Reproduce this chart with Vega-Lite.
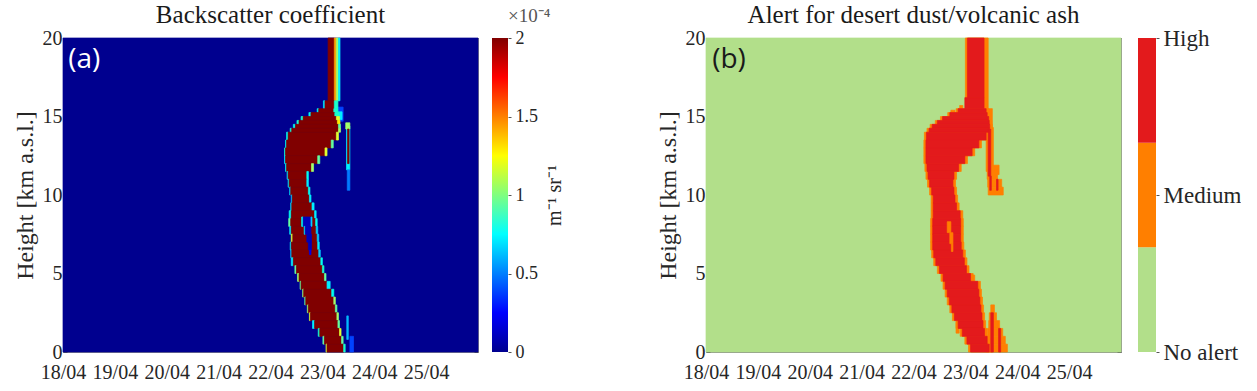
{
  "$schema": "https://vega.github.io/schema/vega-lite/v6.json",
  "padding": {"left": 13, "top": 3, "right": 0, "bottom": 0},
  "background": "white",
  "bounds": "flush",
  "spacing": 0,
  "resolve": {"scale": {"color": "independent", "stroke": "independent"}},
  "config": {
    "view": {"stroke": null},
    "font": "Liberation Serif",
    "title": {"font": "Liberation Serif", "fontWeight": "normal", "color": "#1a1a1a"},
    "axis": {"labelFont": "Liberation Serif", "titleFont": "Liberation Serif", "titleFontWeight": "normal", "labelColor": "#262626", "titleColor": "#262626", "grid": false, "domainColor": "#8c8c8c", "tickColor": "#555555"}
  },
  "datasets": {
    "a": [
      {"d0":18,"d1":26,"h0":0,"h1":20,"v":0},
      {"d0":23.24,"d1":23.40,"h0":14.7,"h1":15.6,"v":0.3},
      {"d0":23.30,"d1":23.38,"h0":14.8,"h1":15.3,"v":0.7},
      {"d0":23.465,"d1":23.53,"h0":11.6,"h1":14.4,"v":0.7},
      {"d0":23.48,"d1":23.53,"h0":10.3,"h1":11.6,"v":0.4},
      {"d0":23.45,"d1":23.53,"h0":14.2,"h1":14.6,"v":1.1},
      {"d0":23.47,"d1":23.50,"h0":0.8,"h1":2.3,"v":0.55},
      {"d0":23.53,"d1":23.60,"h0":0,"h1":1.0,"v":0.3},
      {"d0":23.485,"d1":23.515,"h0":12.0,"h1":14.2,"v":2},
      {"d0":23.11,"d1":23.23,"h0":16,"h1":20,"v":2},
      {"d0":23.23,"d1":23.27,"h0":16,"h1":20,"v":1.5},
      {"d0":23.27,"d1":23.31,"h0":16,"h1":20,"v":1.1},
      {"d0":23.31,"d1":23.34,"h0":16,"h1":20,"v":0.7},
      {"d0":23.02,"d1":23.05,"h0":15.5,"h1":16,"v":0.7},
      {"d0":23.05,"d1":23.23,"h0":15.5,"h1":16,"v":2},
      {"d0":23.23,"d1":23.30,"h0":15.5,"h1":16,"v":0.9},
      {"d0":22.90,"d1":22.93,"h0":15.25,"h1":15.5,"v":0.8},
      {"d0":22.93,"d1":23.22,"h0":15.25,"h1":15.5,"v":2},
      {"d0":23.22,"d1":23.30,"h0":15.25,"h1":15.5,"v":0.9},
      {"d0":22.74,"d1":22.78,"h0":15.0,"h1":15.25,"v":0.8},
      {"d0":22.78,"d1":23.24,"h0":15.0,"h1":15.25,"v":2},
      {"d0":23.24,"d1":23.32,"h0":15.0,"h1":15.25,"v":0.9},
      {"d0":22.59,"d1":22.63,"h0":14.75,"h1":15.0,"v":0.9},
      {"d0":22.63,"d1":23.27,"h0":14.75,"h1":15.0,"v":2},
      {"d0":23.27,"d1":23.33,"h0":14.75,"h1":15.0,"v":1.2},
      {"d0":22.51,"d1":22.55,"h0":14.5,"h1":14.75,"v":0.9},
      {"d0":22.55,"d1":23.29,"h0":14.5,"h1":14.75,"v":2},
      {"d0":23.29,"d1":23.34,"h0":14.5,"h1":14.75,"v":1.3},
      {"d0":22.44,"d1":22.48,"h0":14.25,"h1":14.5,"v":0.8},
      {"d0":22.48,"d1":23.31,"h0":14.25,"h1":14.5,"v":2},
      {"d0":23.31,"d1":23.35,"h0":14.25,"h1":14.5,"v":1.0},
      {"d0":22.38,"d1":22.41,"h0":14.0,"h1":14.25,"v":0.9},
      {"d0":22.41,"d1":23.31,"h0":14.0,"h1":14.25,"v":2},
      {"d0":23.31,"d1":23.35,"h0":14.0,"h1":14.25,"v":1.1},
      {"d0":22.31,"d1":22.34,"h0":13.5,"h1":14.0,"v":0.8},
      {"d0":22.34,"d1":23.27,"h0":13.5,"h1":14.0,"v":2},
      {"d0":23.27,"d1":23.31,"h0":13.5,"h1":14.0,"v":1.2},
      {"d0":22.29,"d1":22.31,"h0":13.0,"h1":13.5,"v":0.8},
      {"d0":22.31,"d1":23.17,"h0":13.0,"h1":13.5,"v":2},
      {"d0":23.17,"d1":23.21,"h0":13.0,"h1":13.5,"v":1.0},
      {"d0":22.27,"d1":22.29,"h0":12.5,"h1":13.0,"v":0.9},
      {"d0":22.29,"d1":23.05,"h0":12.5,"h1":13.0,"v":2},
      {"d0":23.05,"d1":23.09,"h0":12.5,"h1":13.0,"v":1.2},
      {"d0":22.27,"d1":22.29,"h0":12.0,"h1":12.5,"v":0.7},
      {"d0":22.29,"d1":22.91,"h0":12.0,"h1":12.5,"v":2},
      {"d0":22.91,"d1":22.95,"h0":12.0,"h1":12.5,"v":1.0},
      {"d0":22.29,"d1":22.31,"h0":11.5,"h1":12.0,"v":0.8},
      {"d0":22.31,"d1":22.79,"h0":11.5,"h1":12.0,"v":2},
      {"d0":22.79,"d1":22.83,"h0":11.5,"h1":12.0,"v":1.1},
      {"d0":22.32,"d1":22.34,"h0":11.0,"h1":11.5,"v":0.7},
      {"d0":22.34,"d1":22.70,"h0":11.0,"h1":11.5,"v":2},
      {"d0":22.70,"d1":22.73,"h0":11.0,"h1":11.5,"v":0.8},
      {"d0":22.34,"d1":22.36,"h0":10.5,"h1":11.0,"v":0.7},
      {"d0":22.36,"d1":22.70,"h0":10.5,"h1":11.0,"v":2},
      {"d0":22.70,"d1":22.73,"h0":10.5,"h1":11.0,"v":0.7},
      {"d0":22.37,"d1":22.39,"h0":10.0,"h1":10.5,"v":0.7},
      {"d0":22.39,"d1":22.73,"h0":10.0,"h1":10.5,"v":2},
      {"d0":22.73,"d1":22.76,"h0":10.0,"h1":10.5,"v":0.8},
      {"d0":22.40,"d1":22.42,"h0":9.5,"h1":10.0,"v":0.6},
      {"d0":22.42,"d1":22.75,"h0":9.5,"h1":10.0,"v":2},
      {"d0":22.75,"d1":22.78,"h0":9.5,"h1":10.0,"v":0.7},
      {"d0":22.39,"d1":22.41,"h0":9.0,"h1":9.5,"v":0.7},
      {"d0":22.41,"d1":22.80,"h0":9.0,"h1":9.5,"v":2},
      {"d0":22.80,"d1":22.84,"h0":9.0,"h1":9.5,"v":0.7},
      {"d0":22.36,"d1":22.40,"h0":8.5,"h1":9.0,"v":0.8},
      {"d0":22.40,"d1":22.85,"h0":8.5,"h1":9.0,"v":2},
      {"d0":22.85,"d1":22.88,"h0":8.5,"h1":9.0,"v":0.7},
      {"d0":22.35,"d1":22.39,"h0":8.0,"h1":8.5,"v":1.0},
      {"d0":22.39,"d1":22.87,"h0":8.0,"h1":8.5,"v":2},
      {"d0":22.87,"d1":22.90,"h0":8.0,"h1":8.5,"v":0.8},
      {"d0":22.37,"d1":22.40,"h0":7.5,"h1":8.0,"v":0.7},
      {"d0":22.40,"d1":22.88,"h0":7.5,"h1":8.0,"v":2},
      {"d0":22.88,"d1":22.91,"h0":7.5,"h1":8.0,"v":0.6},
      {"d0":22.40,"d1":22.43,"h0":7.0,"h1":7.5,"v":1.2},
      {"d0":22.43,"d1":22.90,"h0":7.0,"h1":7.5,"v":2},
      {"d0":22.90,"d1":22.93,"h0":7.0,"h1":7.5,"v":0.6},
      {"d0":22.38,"d1":22.40,"h0":6.5,"h1":7.0,"v":0.7},
      {"d0":22.40,"d1":22.91,"h0":6.5,"h1":7.0,"v":2},
      {"d0":22.91,"d1":22.94,"h0":6.5,"h1":7.0,"v":0.7},
      {"d0":22.39,"d1":22.41,"h0":6.0,"h1":6.5,"v":0.6},
      {"d0":22.41,"d1":22.93,"h0":6.0,"h1":6.5,"v":2},
      {"d0":22.93,"d1":22.96,"h0":6.0,"h1":6.5,"v":0.6},
      {"d0":22.40,"d1":22.44,"h0":5.5,"h1":6.0,"v":0.7},
      {"d0":22.44,"d1":22.97,"h0":5.5,"h1":6.0,"v":2},
      {"d0":22.97,"d1":23.00,"h0":5.5,"h1":6.0,"v":0.8},
      {"d0":22.47,"d1":22.50,"h0":5.0,"h1":5.5,"v":1.0},
      {"d0":22.50,"d1":23.00,"h0":5.0,"h1":5.5,"v":2},
      {"d0":23.00,"d1":23.03,"h0":5.0,"h1":5.5,"v":0.9},
      {"d0":22.52,"d1":22.55,"h0":4.5,"h1":5.0,"v":1.1},
      {"d0":22.55,"d1":23.04,"h0":4.5,"h1":5.0,"v":2},
      {"d0":23.04,"d1":23.07,"h0":4.5,"h1":5.0,"v":1.0},
      {"d0":22.57,"d1":22.59,"h0":4.0,"h1":4.5,"v":1.0},
      {"d0":22.59,"d1":23.09,"h0":4.0,"h1":4.5,"v":2},
      {"d0":23.09,"d1":23.15,"h0":4.0,"h1":4.5,"v":0.7},
      {"d0":22.62,"d1":22.64,"h0":3.5,"h1":4.0,"v":1.1},
      {"d0":22.64,"d1":23.18,"h0":3.5,"h1":4.0,"v":2},
      {"d0":23.18,"d1":23.22,"h0":3.5,"h1":4.0,"v":0.8},
      {"d0":22.66,"d1":22.68,"h0":3.0,"h1":3.5,"v":1.0},
      {"d0":22.68,"d1":23.22,"h0":3.0,"h1":3.5,"v":2},
      {"d0":23.22,"d1":23.25,"h0":3.0,"h1":3.5,"v":1.1},
      {"d0":22.71,"d1":22.73,"h0":2.5,"h1":3.0,"v":1.1},
      {"d0":22.73,"d1":23.25,"h0":2.5,"h1":3.0,"v":2},
      {"d0":23.25,"d1":23.28,"h0":2.5,"h1":3.0,"v":1.0},
      {"d0":22.75,"d1":22.77,"h0":2.0,"h1":2.5,"v":1.2},
      {"d0":22.77,"d1":23.28,"h0":2.0,"h1":2.5,"v":2},
      {"d0":23.28,"d1":23.31,"h0":2.0,"h1":2.5,"v":1.1},
      {"d0":22.81,"d1":22.85,"h0":1.5,"h1":2.0,"v":0.7},
      {"d0":22.85,"d1":23.30,"h0":1.5,"h1":2.0,"v":2},
      {"d0":23.30,"d1":23.33,"h0":1.5,"h1":2.0,"v":1.0},
      {"d0":22.92,"d1":22.95,"h0":1.0,"h1":1.5,"v":0.9},
      {"d0":22.95,"d1":23.33,"h0":1.0,"h1":1.5,"v":2},
      {"d0":23.33,"d1":23.36,"h0":1.0,"h1":1.5,"v":1.2},
      {"d0":23.01,"d1":23.04,"h0":0.5,"h1":1.0,"v":1.0},
      {"d0":23.04,"d1":23.37,"h0":0.5,"h1":1.0,"v":2},
      {"d0":23.37,"d1":23.40,"h0":0.5,"h1":1.0,"v":1.0},
      {"d0":23.07,"d1":23.09,"h0":0.0,"h1":0.5,"v":1.2},
      {"d0":23.09,"d1":23.41,"h0":0.0,"h1":0.5,"v":2},
      {"d0":23.41,"d1":23.44,"h0":0.0,"h1":0.5,"v":0.9},
      {"d0":22.60,"d1":22.63,"h0":8.0,"h1":8.6,"v":0.8},
      {"d0":22.63,"d1":22.78,"h0":8.0,"h1":8.6,"v":0.1},
      {"d0":22.78,"d1":22.80,"h0":8.0,"h1":8.6,"v":0.6},
      {"d0":22.65,"d1":22.67,"h0":7.5,"h1":8.0,"v":0.7},
      {"d0":22.67,"d1":22.78,"h0":7.5,"h1":8.0,"v":0.1},
      {"d0":22.70,"d1":22.79,"h0":7.0,"h1":7.5,"v":0.1},
      {"d0":22.73,"d1":22.79,"h0":6.5,"h1":7.0,"v":0.1},
      {"d0":22.75,"d1":22.78,"h0":6.2,"h1":6.5,"v":0.2}
    ],
    "b": [
      {"d0":18,"d1":26,"h0":0,"h1":20,"lvl":0},
      {"d0":23.00,"d1":23.44,"h0":15.5,"h1":20,"lvl":1},
      {"d0":22.72,"d1":22.80,"h0":14.4,"h1":15.4,"lvl":1},
      {"d0":22.89,"d1":22.95,"h0":14.6,"h1":15.7,"lvl":1},
      {"d0":23.36,"d1":23.52,"h0":14.3,"h1":15.5,"lvl":1},
      {"d0":23.40,"d1":23.54,"h0":11.5,"h1":14.3,"lvl":1},
      {"d0":23.52,"d1":23.65,"h0":11.3,"h1":11.9,"lvl":1},
      {"d0":23.42,"d1":23.62,"h0":11.0,"h1":11.6,"lvl":1},
      {"d0":23.43,"d1":23.70,"h0":10.5,"h1":11.0,"lvl":1},
      {"d0":23.44,"d1":23.73,"h0":10.0,"h1":10.5,"lvl":1},
      {"d0":23.49,"d1":23.56,"h0":2.5,"h1":3.0,"lvl":1},
      {"d0":23.46,"d1":23.60,"h0":2.0,"h1":2.5,"lvl":1},
      {"d0":23.45,"d1":23.66,"h0":1.5,"h1":2.0,"lvl":1},
      {"d0":23.43,"d1":23.72,"h0":1.0,"h1":1.5,"lvl":1},
      {"d0":23.42,"d1":23.77,"h0":0.5,"h1":1.0,"lvl":1},
      {"d0":23.40,"d1":23.81,"h0":0.0,"h1":0.5,"lvl":1},
      {"d0":23.10,"d1":23.18,"h0":4.4,"h1":4.9,"lvl":1},
      {"d0":22.82,"d1":22.88,"h0":1.2,"h1":1.9,"lvl":1},
      {"d0":22.82,"d1":23.45,"h0":15.25,"h1":15.5,"lvl":1},
      {"d0":22.66,"d1":23.47,"h0":15.0,"h1":15.25,"lvl":1},
      {"d0":22.52,"d1":23.50,"h0":14.75,"h1":15.0,"lvl":1},
      {"d0":22.42,"d1":23.51,"h0":14.5,"h1":14.75,"lvl":1},
      {"d0":22.32,"d1":23.52,"h0":14.25,"h1":14.5,"lvl":1},
      {"d0":22.26,"d1":23.51,"h0":14.0,"h1":14.25,"lvl":1},
      {"d0":22.21,"d1":23.45,"h0":13.5,"h1":14.0,"lvl":1},
      {"d0":22.20,"d1":23.31,"h0":13.0,"h1":13.5,"lvl":1},
      {"d0":22.20,"d1":23.18,"h0":12.5,"h1":13.0,"lvl":1},
      {"d0":22.20,"d1":23.04,"h0":12.0,"h1":12.5,"lvl":1},
      {"d0":22.22,"d1":22.92,"h0":11.5,"h1":12.0,"lvl":1},
      {"d0":22.24,"d1":22.83,"h0":11.0,"h1":11.5,"lvl":1},
      {"d0":22.27,"d1":22.81,"h0":10.5,"h1":11.0,"lvl":1},
      {"d0":22.31,"d1":22.83,"h0":10.0,"h1":10.5,"lvl":1},
      {"d0":22.34,"d1":22.85,"h0":9.5,"h1":10.0,"lvl":1},
      {"d0":22.34,"d1":22.88,"h0":9.0,"h1":9.5,"lvl":1},
      {"d0":22.34,"d1":22.95,"h0":8.5,"h1":9.0,"lvl":1},
      {"d0":22.33,"d1":22.96,"h0":8.0,"h1":8.5,"lvl":1},
      {"d0":22.33,"d1":22.96,"h0":7.5,"h1":8.0,"lvl":1},
      {"d0":22.33,"d1":22.96,"h0":7.0,"h1":7.5,"lvl":1},
      {"d0":22.33,"d1":22.97,"h0":6.5,"h1":7.0,"lvl":1},
      {"d0":22.35,"d1":23.00,"h0":6.0,"h1":6.5,"lvl":1},
      {"d0":22.39,"d1":23.03,"h0":5.5,"h1":6.0,"lvl":1},
      {"d0":22.46,"d1":23.07,"h0":5.0,"h1":5.5,"lvl":1},
      {"d0":22.53,"d1":23.15,"h0":4.5,"h1":5.0,"lvl":1},
      {"d0":22.57,"d1":23.29,"h0":4.0,"h1":4.5,"lvl":1},
      {"d0":22.61,"d1":23.31,"h0":3.5,"h1":4.0,"lvl":1},
      {"d0":22.65,"d1":23.33,"h0":3.0,"h1":3.5,"lvl":1},
      {"d0":22.70,"d1":23.35,"h0":2.5,"h1":3.0,"lvl":1},
      {"d0":22.75,"d1":23.37,"h0":2.0,"h1":2.5,"lvl":1},
      {"d0":22.82,"d1":23.39,"h0":1.5,"h1":2.0,"lvl":1},
      {"d0":22.90,"d1":23.42,"h0":1.0,"h1":1.5,"lvl":1},
      {"d0":22.99,"d1":23.47,"h0":0.5,"h1":1.0,"lvl":1},
      {"d0":23.06,"d1":23.51,"h0":0.0,"h1":0.5,"lvl":1},
      {"d0":23.04,"d1":23.36,"h0":16.2,"h1":20,"lvl":2},
      {"d0":22.99,"d1":23.36,"h0":15.5,"h1":16.2,"lvl":2},
      {"d0":22.86,"d1":23.40,"h0":15.25,"h1":15.5,"lvl":2},
      {"d0":22.70,"d1":23.42,"h0":15.0,"h1":15.25,"lvl":2},
      {"d0":22.56,"d1":23.45,"h0":14.75,"h1":15.0,"lvl":2},
      {"d0":22.46,"d1":23.46,"h0":14.5,"h1":14.75,"lvl":2},
      {"d0":22.36,"d1":23.47,"h0":14.25,"h1":14.5,"lvl":2},
      {"d0":22.30,"d1":23.46,"h0":14.0,"h1":14.25,"lvl":2},
      {"d0":22.25,"d1":23.40,"h0":13.5,"h1":14.0,"lvl":2},
      {"d0":22.24,"d1":23.26,"h0":13.0,"h1":13.5,"lvl":2},
      {"d0":22.24,"d1":23.13,"h0":12.5,"h1":13.0,"lvl":2},
      {"d0":22.24,"d1":22.99,"h0":12.0,"h1":12.5,"lvl":2},
      {"d0":22.26,"d1":22.87,"h0":11.5,"h1":12.0,"lvl":2},
      {"d0":22.28,"d1":22.78,"h0":11.0,"h1":11.5,"lvl":2},
      {"d0":22.31,"d1":22.76,"h0":10.5,"h1":11.0,"lvl":2},
      {"d0":22.35,"d1":22.78,"h0":10.0,"h1":10.5,"lvl":2},
      {"d0":22.38,"d1":22.80,"h0":9.5,"h1":10.0,"lvl":2},
      {"d0":22.38,"d1":22.83,"h0":9.0,"h1":9.5,"lvl":2},
      {"d0":22.38,"d1":22.90,"h0":8.5,"h1":9.0,"lvl":2},
      {"d0":22.37,"d1":22.91,"h0":8.0,"h1":8.5,"lvl":2},
      {"d0":22.37,"d1":22.91,"h0":7.5,"h1":8.0,"lvl":2},
      {"d0":22.37,"d1":22.91,"h0":7.0,"h1":7.5,"lvl":2},
      {"d0":22.37,"d1":22.92,"h0":6.5,"h1":7.0,"lvl":2},
      {"d0":22.39,"d1":22.95,"h0":6.0,"h1":6.5,"lvl":2},
      {"d0":22.43,"d1":22.98,"h0":5.5,"h1":6.0,"lvl":2},
      {"d0":22.50,"d1":23.02,"h0":5.0,"h1":5.5,"lvl":2},
      {"d0":22.57,"d1":23.10,"h0":4.5,"h1":5.0,"lvl":2},
      {"d0":22.61,"d1":23.24,"h0":4.0,"h1":4.5,"lvl":2},
      {"d0":22.65,"d1":23.26,"h0":3.5,"h1":4.0,"lvl":2},
      {"d0":22.69,"d1":23.28,"h0":3.0,"h1":3.5,"lvl":2},
      {"d0":22.74,"d1":23.30,"h0":2.5,"h1":3.0,"lvl":2},
      {"d0":22.79,"d1":23.32,"h0":2.0,"h1":2.5,"lvl":2},
      {"d0":22.86,"d1":23.34,"h0":1.5,"h1":2.0,"lvl":2},
      {"d0":22.94,"d1":23.37,"h0":1.0,"h1":1.5,"lvl":2},
      {"d0":23.03,"d1":23.42,"h0":0.5,"h1":1.0,"lvl":2},
      {"d0":23.10,"d1":23.46,"h0":0.0,"h1":0.5,"lvl":2},
      {"d0":22.65,"d1":22.72,"h0":7.6,"h1":8.3,"lvl":1},
      {"d0":22.70,"d1":22.76,"h0":6.9,"h1":7.6,"lvl":1},
      {"d0":22.73,"d1":22.76,"h0":6.4,"h1":6.9,"lvl":1},
      {"d0":23.44,"d1":23.49,"h0":11.2,"h1":14.2,"lvl":2},
      {"d0":23.47,"d1":23.50,"h0":10.3,"h1":11.2,"lvl":2},
      {"d0":23.60,"d1":23.63,"h0":10.3,"h1":11.0,"lvl":2},
      {"d0":23.49,"d1":23.54,"h0":0.0,"h1":2.5,"lvl":2},
      {"d0":23.64,"d1":23.68,"h0":0.0,"h1":1.5,"lvl":2}
    ],
    "cbb": [
      {"lo":0,"hi":1,"lvl":0},
      {"lo":1,"hi":2,"lvl":1},
      {"lo":2,"hi":3,"lvl":2}
    ]
  },
  "hconcat": [
    {
      "width": 415, "height": 314,
      "title": {"text": "Backscatter coefficient", "fontSize": 25, "offset": 0, "font": "Liberation Serif"},
      "layer": [
        {
          "data": {"name": "a"},
          "mark": {"type": "rect", "strokeWidth": 0.7},
          "encoding": {
            "x": {"field": "d0", "type": "quantitative", "scale": {"domain": [18, 26], "nice": false, "zero": false},
                  "axis": {"orient": "bottom", "title": null, "values": [18,18.2,18.4,18.6,18.8,19,19.2,19.4,19.6,19.8,20,20.2,20.4,20.6,20.8,21,21.2,21.4,21.6,21.8,22,22.2,22.4,22.6,22.8,23,23.2,23.4,23.6,23.8,24,24.2,24.4,24.6,24.8,25,25.2,25.4,25.6,25.8,26],
                           "labelExpr": "datum.value % 1 === 0 && datum.value < 26 ? datum.value + '/04' : ''", "tickSize": -4, "labelPadding": 14, "labelFontSize": 20, "labelFont": "Liberation Serif", "labelOverlap": false, "labelFlush": false}},
            "x2": {"field": "d1"},
            "y": {"field": "h0", "type": "quantitative", "scale": {"domain": [0, 20], "nice": false, "zero": false},
                  "axis": {"orient": "left", "title": "Height  [km a.s.l.]", "titleFont": "Liberation Serif", "titleFontSize": 24, "titlePadding": 5, "values": [0,1,2,3,4,5,6,7,8,9,10,11,12,13,14,15,16,17,18,19,20],
                           "labelExpr": "datum.value % 5 === 0 ? datum.label : ''", "tickSize": -4, "labelPadding": 5, "labelFontSize": 20, "labelFont": "Liberation Serif", "labelOverlap": false, "labelFlush": false}},
            "y2": {"field": "h1"},
            "color": {"field": "v", "type": "quantitative", "scale": {"domain": [0, 0.25, 0.75, 1.25, 1.75, 2], "range": ["#00008f", "#0000ff", "#00ffff", "#ffff00", "#ff0000", "#800000"]}, "legend": null},
            "stroke": {"field": "v", "type": "quantitative", "scale": {"domain": [0, 0.25, 0.75, 1.25, 1.75, 2], "range": ["#00008f", "#0000ff", "#00ffff", "#ffff00", "#ff0000", "#800000"]}, "legend": null}
          }
        },
        {
          "data": {"values": [{"lab": "(a)", "d": 18.1, "h": 18.6}]},
          "mark": {"type": "text", "font": "Open Sans", "fontSize": 28, "color": "white", "align": "left", "baseline": "middle"},
          "encoding": {
            "x": {"field": "d", "type": "quantitative", "axis": {"orient": "top", "title": null, "labels": false, "values": [18,18.2,18.4,18.6,18.8,19,19.2,19.4,19.6,19.8,20,20.2,20.4,20.6,20.8,21,21.2,21.4,21.6,21.8,22,22.2,22.4,22.6,22.8,23,23.2,23.4,23.6,23.8,24,24.2,24.4,24.6,24.8,25,25.2,25.4,25.6,25.8,26], "tickSize": -4}},
            "y": {"field": "h", "type": "quantitative", "axis": {"orient": "right", "title": null, "labels": false, "values": [0,1,2,3,4,5,6,7,8,9,10,11,12,13,14,15,16,17,18,19,20], "tickSize": -4}},
            "text": {"field": "lab"}
          }
        }
      ],
      "resolve": {"axis": {"x": "independent", "y": "independent"}}
    },
    {"width": 14, "height": 314, "data": {"values": []}, "mark": "rect", "encoding": {}},
    {
      "width": 16, "height": 314,
      "title": {"text": "×10⁻⁴", "anchor": "start", "fontSize": 19, "color": "#555555", "offset": 0, "dx": 16, "dy": -3, "font": "Liberation Serif"},
      "data": {"values": [{"lo": 0, "hi": 2}]},
      "mark": {"type": "rect", "fill": {"gradient": "linear", "x1": 0, "y1": 1, "x2": 0, "y2": 0, "stops": [{"offset": 0, "color": "#00008f"}, {"offset": 0.125, "color": "#0000ff"}, {"offset": 0.375, "color": "#00ffff"}, {"offset": 0.625, "color": "#ffff00"}, {"offset": 0.875, "color": "#ff0000"}, {"offset": 1, "color": "#800000"}]}},
      "encoding": {
        "y": {"field": "lo", "type": "quantitative", "scale": {"domain": [0, 2], "nice": false},
              "axis": {"orient": "right", "values": [0, 0.5, 1, 1.5, 2], "format": "~g", "tickSize": 3, "domain": false, "labelFontSize": 18, "labelFont": "Liberation Serif", "labelPadding": 4, "labelFlush": false, "title": "m⁻¹ sr⁻¹", "titleFont": "Liberation Serif", "titleAngle": 270, "titleFontSize": 20, "titlePadding": 27}},
        "y2": {"field": "hi"}
      }
    },
    {"width": 198, "height": 314, "data": {"values": []}, "mark": "rect", "encoding": {}},
    {
      "width": 415, "height": 314,
      "title": {"text": "Alert for desert dust/volcanic ash", "fontSize": 25, "offset": 0, "font": "Liberation Serif"},
      "layer": [
        {
          "data": {"name": "b"},
          "mark": {"type": "rect", "strokeWidth": 0.7},
          "encoding": {
            "x": {"field": "d0", "type": "quantitative", "scale": {"domain": [18, 26], "nice": false, "zero": false},
                  "axis": {"orient": "bottom", "title": null, "values": [18,18.2,18.4,18.6,18.8,19,19.2,19.4,19.6,19.8,20,20.2,20.4,20.6,20.8,21,21.2,21.4,21.6,21.8,22,22.2,22.4,22.6,22.8,23,23.2,23.4,23.6,23.8,24,24.2,24.4,24.6,24.8,25,25.2,25.4,25.6,25.8,26],
                           "labelExpr": "datum.value % 1 === 0 && datum.value < 26 ? datum.value + '/04' : ''", "tickSize": -4, "labelPadding": 14, "labelFontSize": 20, "labelFont": "Liberation Serif", "labelOverlap": false, "labelFlush": false}},
            "x2": {"field": "d1"},
            "y": {"field": "h0", "type": "quantitative", "scale": {"domain": [0, 20], "nice": false, "zero": false},
                  "axis": {"orient": "left", "title": "Height  [km a.s.l.]", "titleFont": "Liberation Serif", "titleFontSize": 24, "titlePadding": 5, "values": [0,1,2,3,4,5,6,7,8,9,10,11,12,13,14,15,16,17,18,19,20],
                           "labelExpr": "datum.value % 5 === 0 ? datum.label : ''", "tickSize": -4, "labelPadding": 5, "labelFontSize": 20, "labelFont": "Liberation Serif", "labelOverlap": false, "labelFlush": false}},
            "y2": {"field": "h1"},
            "color": {"field": "lvl", "type": "ordinal", "scale": {"domain": [0, 1, 2], "range": ["#b2df8a", "#ff7f00", "#e31a1c"]}, "legend": null},
            "stroke": {"field": "lvl", "type": "ordinal", "scale": {"domain": [0, 1, 2], "range": ["#b2df8a", "#ff7f00", "#e31a1c"]}, "legend": null}
          }
        },
        {
          "data": {"values": [{"lab": "(b)", "d": 18.12, "h": 18.6}]},
          "mark": {"type": "text", "font": "Open Sans", "fontSize": 28, "color": "#1a1a1a", "align": "left", "baseline": "middle"},
          "encoding": {
            "x": {"field": "d", "type": "quantitative", "axis": {"orient": "top", "title": null, "labels": false, "values": [18,18.2,18.4,18.6,18.8,19,19.2,19.4,19.6,19.8,20,20.2,20.4,20.6,20.8,21,21.2,21.4,21.6,21.8,22,22.2,22.4,22.6,22.8,23,23.2,23.4,23.6,23.8,24,24.2,24.4,24.6,24.8,25,25.2,25.4,25.6,25.8,26], "tickSize": -4}},
            "y": {"field": "h", "type": "quantitative", "axis": {"orient": "right", "title": null, "labels": false, "values": [0,1,2,3,4,5,6,7,8,9,10,11,12,13,14,15,16,17,18,19,20], "tickSize": -4}},
            "text": {"field": "lab"}
          }
        }
      ],
      "resolve": {"axis": {"x": "independent", "y": "independent"}}
    },
    {"width": 17, "height": 314, "data": {"values": []}, "mark": "rect", "encoding": {}},
    {
      "width": 18, "height": 314,
      "data": {"name": "cbb"},
      "mark": {"type": "rect"},
      "encoding": {
        "y": {"field": "lo", "type": "quantitative", "scale": {"domain": [0, 3], "nice": false},
              "axis": {"orient": "right", "values": [0, 1.5, 3], "labelExpr": "datum.value === 0 ? 'No alert' : datum.value === 3 ? 'High' : 'Medium'", "tickSize": 3, "domain": false, "labelFontSize": 23, "labelFont": "Liberation Serif", "labelPadding": 4, "labelFlush": false, "title": null}},
        "y2": {"field": "hi"},
        "color": {"field": "lvl", "type": "ordinal", "scale": {"domain": [0, 1, 2], "range": ["#b2df8a", "#ff7f00", "#e31a1c"]}, "legend": null}
      }
    }
  ]
}
